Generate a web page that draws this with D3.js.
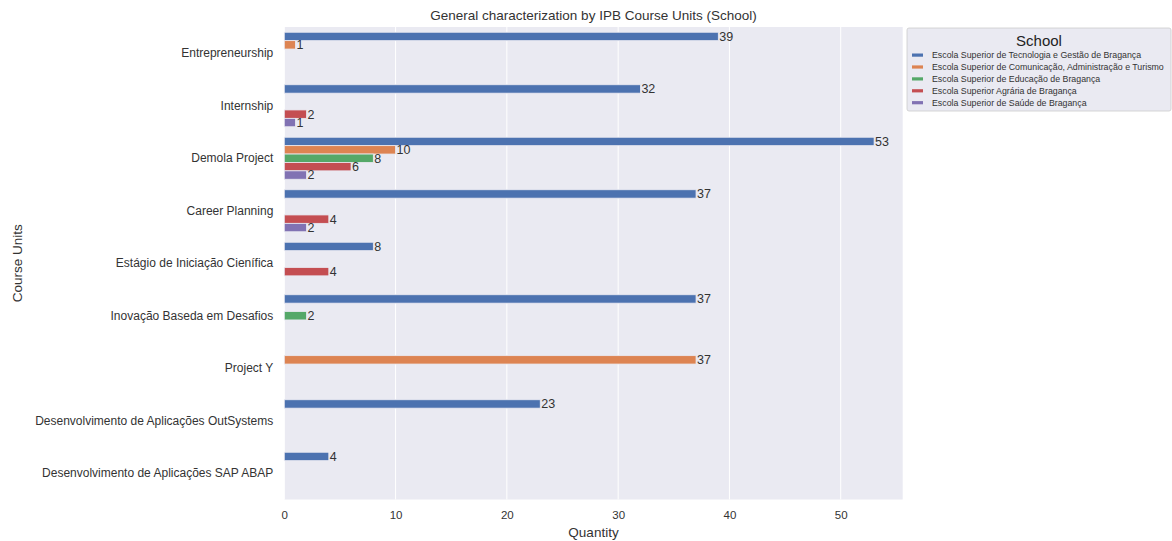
<!DOCTYPE html>
<html><head><meta charset="utf-8">
<script src="https://cdn.jsdelivr.net/npm/d3@7"></script>
<style>body{margin:0;background:#fff;font-family:"Liberation Sans",Arial,sans-serif;}</style>
</head><body>
<svg id="c" width="1172" height="541"></svg>
<script>
const categories = ["Entrepreneurship","Internship","Demola Project","Career Planning","Estágio de Iniciação Cienífica","Inovação Baseda em Desafios","Project Y","Desenvolvimento de Aplicações OutSystems","Desenvolvimento de Aplicações SAP ABAP"];
const schools = ["Escola Superior de Tecnologia e Gestão de Bragança","Escola Superior de Comunicação, Administração e Turismo","Escola Superior de Educação de Bragança","Escola Superior Agrária de Bragança","Escola Superior de Saúde de Bragança"];
const estig = [39,32,53,37,8,37,null,23,4];
const escat = [1,null,10,null,null,null,37,null,null];
const ese   = [null,null,8,null,null,2,null,null,null];
const esa   = [null,2,6,4,4,null,null,null,null];
const essa  = [null,1,2,2,null,null,null,null,null];
const xTicks = [0,10,20,30,40,50];
const colors = ["#4C72B0","#DD8452","#55A868","#C44E52","#8172B3"];
const series = [estig,escat,ese,esa,essa];

const svg = d3.select("#c");
const m = {l:284.3, r:902.7, t:27, b:499.5};
const x = d3.scaleLinear().domain([0,55.57]).range([m.l,m.r]);
const y = d3.scaleBand().domain(categories).range([m.t,m.b]).paddingInner(0.2).paddingOuter(0.1);
const yOuter = d3.scaleBand().domain(categories).range([m.t,m.b]);
const sub = d3.scaleBand().domain(d3.range(schools.length)).range([0,y.bandwidth()]);

svg.append("rect").attr("x",m.l).attr("y",m.t).attr("width",m.r-m.l).attr("height",m.b-m.t).attr("fill","#EAEAF2");
svg.append("g").selectAll("line").data(xTicks).join("line")
  .attr("x1",d=>x(d)).attr("x2",d=>x(d)).attr("y1",m.t).attr("y2",m.b)
  .attr("stroke","#fff").attr("stroke-width",1);

// x axis
const xa = svg.append("g").attr("transform",`translate(0,${m.b})`).call(d3.axisBottom(x).tickValues(xTicks).tickSize(0).tickPadding(11));
xa.select(".domain").remove();
xa.selectAll("text").attr("font-size",11.5).attr("fill","#333").attr("font-family","Liberation Sans, Arial, sans-serif");
// y axis
const ya = svg.append("g").attr("transform",`translate(${m.l},0)`).call(d3.axisLeft(yOuter).tickSize(0).tickPadding(11));
ya.select(".domain").remove();
ya.selectAll("text").attr("font-size",12).attr("fill","#333").attr("font-family","Liberation Sans, Arial, sans-serif");

series.forEach((vals,si)=>{
  const g = svg.append("g");
  const data = categories.map((c,i)=>({c,v:vals[i]})).filter(d=>d.v!=null);
  g.selectAll("rect").data(data).join("rect")
    .attr("x",x(0)).attr("y",d=>y(d.c)+sub(si))
    .attr("width",d=>x(d.v)-x(0)).attr("height",sub.bandwidth())
    .attr("fill",colors[si]).attr("stroke","#EAEAF2").attr("stroke-width",0.8);
  g.selectAll("text").data(data).join("text")
    .attr("x",d=>x(d.v)+1).attr("y",d=>y(d.c)+sub(si)+sub.bandwidth()/2)
    .attr("dy","0.35em").attr("font-size",12.5).attr("fill","#333").text(d=>d.v);
});

svg.append("text").attr("x",(m.l+m.r)/2).attr("y",20).attr("text-anchor","middle").attr("font-size",13.5).attr("fill","#333")
  .text("General characterization by IPB Course Units (School)");
svg.append("text").attr("x",(m.l+m.r)/2).attr("y",537).attr("text-anchor","middle").attr("font-size",13.5).attr("fill","#333").text("Quantity");
svg.append("text").attr("transform",`translate(22,${(m.t+m.b)/2}) rotate(-90)`).attr("text-anchor","middle").attr("font-size",13.5).attr("fill","#333").text("Course Units");

// legend
const lg = svg.append("g").attr("transform","translate(907,28)");
lg.append("rect").attr("x",0).attr("y",0).attr("width",264).attr("height",83).attr("rx",2)
  .attr("fill","#EAEAF2").attr("stroke","#ccc").attr("stroke-width",0.8);
lg.append("text").attr("x",132).attr("y",18).attr("text-anchor","middle").attr("font-size",15).attr("fill","#222").text("School");
schools.forEach((s,i)=>{
  const yy = 27 + i*11.9;
  lg.append("rect").attr("x",5).attr("y",yy-1.5).attr("width",11).attr("height",3.2).attr("fill",colors[i]);
  lg.append("text").attr("x",25).attr("y",yy).attr("dy","0.35em").attr("font-size",8.8).attr("fill","#333").text(s);
});
</script>
</body></html>
